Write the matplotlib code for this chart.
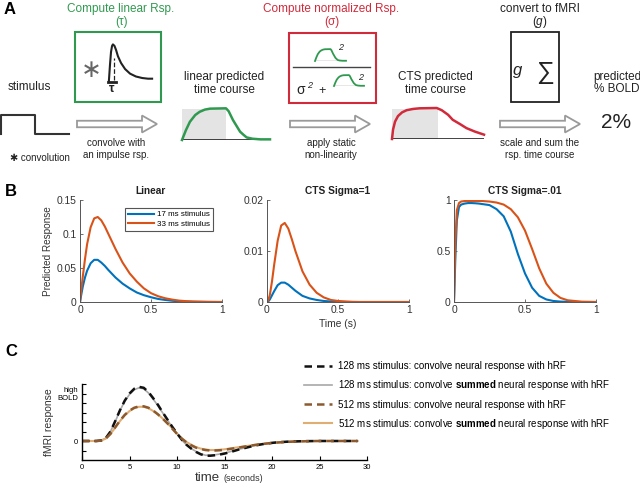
import matplotlib
matplotlib.use('Agg')
import matplotlib.pyplot as plt
import matplotlib.patches as mpatches
import numpy as np

plt.rcParams['font.family'] = ['Liberation Sans', 'DejaVu Sans']
plt.rcParams['mathtext.fontset'] = 'custom'
plt.rcParams['mathtext.rm'] = 'Liberation Sans'
plt.rcParams['mathtext.bf'] = 'Liberation Sans:bold'
plt.rcParams['mathtext.it'] = 'Liberation Sans:italic'

# ---- panel A schematic shapes (normalised units) ----
stim_t = [0, 0, 0.5, 0.5, 1]
stim_y = [0, 1, 1, 0, 0]
irf_t = [0.02, 0.044, 0.067, 0.09, 0.11, 0.144, 0.18, 0.22, 0.29, 0.38, 0.49, 0.62, 0.76, 0.89, 0.98]
irf_y = [0.03, 0.45, 0.79, 0.95, 0.99, 0.95, 0.84, 0.68, 0.5, 0.34, 0.22, 0.145, 0.105, 0.087, 0.087]
tau = 0.14
stim_off = 0.5
lin_t = [0, 0.045, 0.09, 0.15, 0.2, 0.26, 0.32, 0.5, 0.53, 0.58, 0.62, 0.66, 0.7, 0.735, 0.8, 0.89, 1.0]
lin_y = [0, 0.31, 0.57, 0.78, 0.88, 0.95, 0.98, 0.99, 0.9, 0.62, 0.44, 0.26, 0.16, 0.08, 0.04, 0.02, 0.02]
cts_t = [0, 0.011, 0.033, 0.065, 0.11, 0.16, 0.23, 0.3, 0.486, 0.54, 0.61, 0.66, 0.74, 0.81, 0.9, 1.0]
cts_y = [0, 0.3, 0.56, 0.74, 0.86, 0.93, 0.97, 0.99, 1.0, 0.93, 0.78, 0.62, 0.48, 0.35, 0.24, 0.14]

# ---- panel B ----
t_b = [0, 0.01, 0.02, 0.035, 0.05, 0.075, 0.1, 0.125, 0.15, 0.175, 0.2, 0.25, 0.3,
       0.35, 0.4, 0.45, 0.5, 0.55, 0.6, 0.65, 0.7, 0.75, 0.8, 0.9, 1.0]
lin_17 = [0, 0.012, 0.023, 0.036, 0.046, 0.057, 0.062, 0.062, 0.058, 0.053, 0.047, 0.036, 0.027,
          0.02, 0.014, 0.01, 0.007, 0.0045, 0.003, 0.0018, 0.001, 0.0006, 0.0003, 0.0001, 0]
lin_33 = [0, 0.02, 0.038, 0.063, 0.085, 0.11, 0.123, 0.125, 0.12, 0.111, 0.1, 0.078, 0.058,
          0.042, 0.03, 0.02, 0.013, 0.0085, 0.0055, 0.0035, 0.002, 0.0012, 0.0007, 0.0002, 0]
cts1_17 = [0, 0.00014, 0.0005, 0.0013, 0.0021, 0.0033, 0.0038, 0.0038, 0.0034, 0.0028, 0.0022, 0.0012, 0.0007,
           0.0004, 0.0002, 0.0001, 0.00005, 0.00002, 0, 0, 0, 0, 0, 0, 0]
cts1_33 = [0, 0.0004, 0.0014, 0.004, 0.0072, 0.012, 0.015, 0.0155, 0.0144, 0.0123, 0.01, 0.006, 0.0034,
           0.0018, 0.0009, 0.0004, 0.0002, 0.0001, 0.00003, 0, 0, 0, 0, 0, 0]
cts01_17 = [0, 0.45, 0.8, 0.93, 0.955, 0.965, 0.97, 0.97, 0.968, 0.965, 0.96, 0.95, 0.91,
            0.84, 0.69, 0.47, 0.28, 0.14, 0.06, 0.025, 0.01, 0.004, 0.0015, 0, 0]
cts01_33 = [0, 0.6, 0.9, 0.97, 0.985, 0.99, 0.99, 0.99, 0.99, 0.99, 0.99, 0.985, 0.975,
            0.955, 0.91, 0.83, 0.7, 0.52, 0.33, 0.18, 0.09, 0.04, 0.017, 0.003, 0]
b_titles = ['Linear', 'CTS Sigma=1', 'CTS Sigma=.01']
b_yticks = [[0, 0.05, 0.1, 0.15], [0, 0.01, 0.02], [0, 0.5, 1]]
b_ylabels = [['0', '0.05', '0.1', '0.15'], ['0', '0.01', '0.02'], ['0', '0.5', '1']]
b_legend = ['17 ms stimulus', '33 ms stimulus']

# ---- panel C ----
t_c = np.arange(0, 29.5, 0.5)
bold128 = [0, 0, 0, 0, 0.01, 0.06, 0.2, 0.42, 0.65, 0.85, 1.0, 1.1, 1.14, 1.12, 1.03, 0.9, 0.76, 0.6, 0.45, 0.3,
           0.16, 0.03, -0.08, -0.16, -0.23, -0.28, -0.31, -0.31, -0.3, -0.285, -0.265, -0.24, -0.21, -0.18, -0.155,
           -0.13, -0.105, -0.085, -0.067, -0.052, -0.04, -0.03, -0.022, -0.016, -0.011, -0.008, -0.005, -0.003,
           -0.002, -0.001] + [0] * 9
bold128_sum = [0, 0, 0, 0, 0.01, 0.06, 0.2, 0.41, 0.64, 0.84, 0.98, 1.08, 1.12, 1.1, 1.01, 0.88, 0.74, 0.59, 0.44, 0.29,
               0.15, 0.02, -0.08, -0.16, -0.22, -0.27, -0.3, -0.3, -0.29, -0.275, -0.255, -0.23, -0.2, -0.175, -0.15,
               -0.125, -0.1, -0.082, -0.065, -0.05, -0.039, -0.029, -0.021, -0.015, -0.011, -0.008, -0.005, -0.003,
               -0.002, -0.001] + [0] * 9
bold512 = [0, 0, 0, 0, 0.008, 0.05, 0.15, 0.29, 0.43, 0.55, 0.64, 0.7, 0.73, 0.73, 0.7, 0.64, 0.56, 0.47, 0.37, 0.26,
           0.15, 0.05, -0.03, -0.09, -0.14, -0.17, -0.19, -0.2, -0.2, -0.195, -0.185, -0.17, -0.155, -0.14, -0.122,
           -0.105, -0.09, -0.076, -0.063, -0.052, -0.042, -0.033, -0.026, -0.02, -0.015, -0.011, -0.008, -0.005,
           -0.003, -0.001] + [0] * 9
bold512_sum = [0, 0, 0, 0, 0.008, 0.05, 0.15, 0.28, 0.42, 0.54, 0.63, 0.69, 0.72, 0.72, 0.69, 0.63, 0.56, 0.47, 0.37, 0.27,
               0.16, 0.06, -0.02, -0.08, -0.13, -0.16, -0.18, -0.19, -0.19, -0.185, -0.175, -0.16, -0.145, -0.13, -0.115,
               -0.1, -0.086, -0.073, -0.06, -0.05, -0.04, -0.032, -0.025, -0.019, -0.014, -0.01, -0.007, -0.005,
               -0.003, -0.001] + [0] * 9
c_labels = ['128 ms stimulus: convolve neural response with hRF',
            r'128 ms stimulus: convolve $\mathbf{summed}$ neural response with hRF',
            '512 ms stimulus: convolve neural response with hRF',
            r'512 ms stimulus: convolve $\mathbf{summed}$ neural response with hRF']

GREEN = '#2f9a4f'
RED = '#d12a3b'
BLUE = '#0072BD'
ORANGE = '#D95319'
TXT = '#222222'

W, H = 640, 484
fig = plt.figure(figsize=(6.4, 4.84), dpi=100)


def px_axes(x0, y0, x1, y1):
    return fig.add_axes([x0 / W, 1 - y1 / H, (x1 - x0) / W, (y1 - y0) / H])


def mini(x0, y0, x1, y1):
    a = px_axes(x0, y0, x1, y1)
    a.set_xlim(0, 1)
    a.set_ylim(0, 1)
    a.axis('off')
    return a


# overlay in pixel units for the schematic
bg = fig.add_axes([0, 0, 1, 1])
bg.set_xlim(0, W)
bg.set_ylim(H, 0)
bg.axis('off')

bg.text(10, 10, 'A', fontsize=12, fontweight='bold', ha='center', va='center')
bg.text(11, 192, 'B', fontsize=12, fontweight='bold', ha='center', va='center')
bg.text(11, 352, 'C', fontsize=12, fontweight='bold', ha='center', va='center')

# titles of the three steps
bg.text(121, 9, 'Compute linear Rsp.', color=GREEN, fontsize=8.5, ha='center', va='center')
bg.text(122, 22, '(τ)', color=GREEN, fontsize=8.5, ha='center', va='center')
bg.text(331, 9, 'Compute normalized Rsp.', color=RED, fontsize=8.5, ha='center', va='center')
bg.text(332, 22, '(σ)', color=RED, fontsize=8.5, ha='center', va='center')
bg.text(540, 9, 'convert to fMRI', color=TXT, fontsize=8.5, ha='center', va='center')
bg.text(540, 22, '($\\mathit{g}$)', color=TXT, fontsize=8.5, ha='center', va='center')

# boxes
bg.add_patch(mpatches.Rectangle((75, 32), 86, 70, fill=False, ec=GREEN, lw=1.5))
bg.add_patch(mpatches.Rectangle((289, 33), 87, 70, fill=False, ec=RED, lw=1.5))
bg.add_patch(mpatches.Rectangle((511, 32), 48, 70, fill=False, ec=TXT, lw=1.3))

# arrows
for x0, x1 in [(77, 157), (290, 370), (500, 580)]:
    bg.add_patch(mpatches.FancyArrow(x0, 124, x1 - x0, 0, width=6.5, head_width=17, head_length=15,
                                     length_includes_head=True, fc='white', ec='#9a9a9a', lw=1.3))

# labels
bg.text(29, 87, 'stimulus', fontsize=8.5, ha='center', va='center', color=TXT)
bg.text(40, 158, '✱ convolution', fontsize=7, ha='center', va='center', color=TXT)
bg.text(116, 143, 'convolve with', fontsize=7, ha='center', va='center', color=TXT)
bg.text(116, 155, 'an impulse rsp.', fontsize=7, ha='center', va='center', color=TXT)
bg.text(224, 77, 'linear predicted', fontsize=8.5, ha='center', va='center', color=TXT)
bg.text(224, 90, 'time course', fontsize=8.5, ha='center', va='center', color=TXT)
bg.text(331, 143, 'apply static', fontsize=7, ha='center', va='center', color=TXT)
bg.text(331, 155, 'non-linearity', fontsize=7, ha='center', va='center', color=TXT)
bg.text(435, 77, 'CTS predicted', fontsize=8.5, ha='center', va='center', color=TXT)
bg.text(435, 90, 'time course', fontsize=8.5, ha='center', va='center', color=TXT)
bg.text(540, 143, 'scale and sum the', fontsize=7, ha='center', va='center', color=TXT)
bg.text(540, 155, 'rsp. time course', fontsize=7, ha='center', va='center', color=TXT)
bg.text(617, 77, 'predicted', fontsize=8.5, ha='center', va='center', color=TXT)
bg.text(617, 89, '% BOLD', fontsize=8.5, ha='center', va='center', color=TXT)
bg.text(616, 123, '2%', fontsize=15, ha='center', va='center', color=TXT)

# green box content
bg.text(91, 70, '∗', fontsize=18, ha='center', va='center', color='#666666')
bg.text(112, 89, 'τ', fontsize=9, fontweight='bold', ha='center', va='center', color=TXT)
ax_irf = mini(108, 44, 153, 82)
ax_irf.plot(irf_t, irf_y, color=TXT, lw=1.5, clip_on=False)
ax_irf.plot([tau, tau], [0.05, 0.62], color=TXT, lw=0.9, ls='--', clip_on=False)
ax_irf.plot([0.01, 0.17], [0.0, 0.0], color=TXT, lw=2, clip_on=False)

# red box content
bg.plot([293, 370], [67, 67], color='#444444', lw=1)
bg.text(301, 90, 'σ', fontsize=10, ha='center', va='center', color=TXT)
bg.text(310, 86, '2', fontsize=6.5, ha='center', va='center', color=TXT, style='italic')
bg.text(322, 91, '+', fontsize=9, ha='center', va='center', color=TXT)
bg.text(341, 47, '2', fontsize=6.5, ha='center', va='center', color=TXT, style='italic')
bg.text(361, 77, '2', fontsize=6.5, ha='center', va='center', color=TXT, style='italic')
for box in [(315, 49, 346, 61), (334, 75, 364, 86)]:
    a = mini(*box)
    a.axhline(0, color='#444444', lw=0.9)
    a.plot(lin_t, lin_y, color=GREEN, lw=1.3, clip_on=False)

# black box content
bg.text(518, 71, 'g', fontsize=12, style='italic', ha='center', va='center', color=TXT)
bg.text(545, 72, '∑', fontsize=18, ha='center', va='center', color=TXT)

# stimulus step
ax_st = mini(1, 115, 69, 134)
ax_st.plot(stim_t, stim_y, color='#333333', lw=1.5, clip_on=False)

# linear and CTS predicted time courses
for box, ty, col in [((182, 108, 270, 140), (lin_t, lin_y), GREEN), ((392, 108, 484, 139), (cts_t, cts_y), RED)]:
    a = mini(*box)
    a.axvspan(0, stim_off, ymin=0, ymax=0.96, color='#e4e4e4', lw=0)
    a.axhline(0, color=TXT, lw=1.2)
    a.plot(ty[0], ty[1], color=col, lw=1.8, clip_on=False)

# ---- panel B ----
b_boxes = [(80, 200, 222, 302), (267, 200, 409, 302), (454, 200, 596, 302)]
b_data = [(lin_17, lin_33), (cts1_17, cts1_33), (cts01_17, cts01_33)]
b_axes = []
for i in range(3):
    ax = px_axes(*b_boxes[i])
    l1, = ax.plot(t_b, b_data[i][0], color=BLUE, lw=1.5, label=b_legend[0])
    l2, = ax.plot(t_b, b_data[i][1], color=ORANGE, lw=1.5, label=b_legend[1])
    ax.set_xlim(0, 1)
    ax.set_ylim(0, b_yticks[i][-1])
    ax.set_xticks([0, 0.5, 1])
    ax.set_xticklabels(['0', '0.5', '1'])
    ax.set_yticks(b_yticks[i])
    ax.set_yticklabels(b_ylabels[i])
    for s in ['top', 'right']:
        ax.spines[s].set_visible(False)
    for s in ['left', 'bottom']:
        ax.spines[s].set_color('#555555')
        ax.spines[s].set_linewidth(0.7)
    ax.tick_params(direction='in', length=2.5, width=0.6, colors='#555555', labelcolor='#333333',
                   labelsize=7.4, pad=2.5)
    ax.set_title(b_titles[i], fontsize=7.3, fontweight='bold', pad=4, color=TXT)
    b_axes.append(ax)

b_axes[0].set_ylabel('Predicted Response', fontsize=7.2, color='#333333')
b_axes[0].yaxis.set_label_coords(-0.19, 0.5)
b_axes[1].set_xlabel('Time (s)', fontsize=7.4, color='#333333')
b_axes[1].xaxis.set_label_coords(0.5, -0.17)
leg = b_axes[0].legend(loc='upper right', bbox_to_anchor=(213 / W, 1 - 208 / H), bbox_transform=fig.transFigure,
                       fontsize=5.8, handlelength=3.2, handletextpad=0.4, borderpad=0.35, borderaxespad=0,
                       fancybox=False, edgecolor='#555555', framealpha=1, labelspacing=0.25)
leg.get_frame().set_linewidth(0.8)

# ---- panel C ----
axc = px_axes(82, 384, 367, 460)
axc.plot(t_c, bold128_sum, color='#a8a8a8', lw=1.2)
axc.plot(t_c, bold512_sum, color='#e0ad72', lw=1.5)
axc.plot(t_c, bold128, color='#111111', lw=1.8, ls=(0, (3, 2)))
axc.plot(t_c, bold512, color='#8c5a2e', lw=1.8, ls=(0, (3, 2)))
axc.set_xlim(0, 30)
axc.set_ylim(-0.4, 1.2)
axc.set_xticks([0, 5, 10, 15, 20, 25, 30])
axc.set_yticks([-0.2, 0, 0.2, 0.4, 0.6, 0.8, 1.0, 1.2])
axc.set_yticklabels(['', '0', '', '', '', '', 'high\nBOLD', ''])
for s in ['top', 'right']:
    axc.spines[s].set_visible(False)
for s in ['left', 'bottom']:
    axc.spines[s].set_linewidth(1)
axc.tick_params(direction='in', length=3, width=0.8, labelsize=5.5, pad=3)
for lab in axc.get_yticklabels():
    lab.set_linespacing(1.0)
axc.set_ylabel('fMRI response', fontsize=7.5, color='#333333')
axc.yaxis.set_label_coords(-0.10, 0.5)
bg.text(220, 481, 'time', fontsize=9.5, ha='right', va='baseline', color='#333333')
bg.text(223, 481, '(seconds)', fontsize=6.5, ha='left', va='baseline', color='#333333')

h = axc.get_lines()
axc.legend([h[2], h[0], h[3], h[1]], c_labels, loc='upper left', bbox_to_anchor=(304 / W, 1 - 361 / H),
           bbox_transform=fig.transFigure, frameon=False, fontsize=7, handlelength=2.9, handletextpad=0.6,
           labelspacing=0.75, borderpad=0, borderaxespad=0)

fig.savefig('out.png', dpi=100)
